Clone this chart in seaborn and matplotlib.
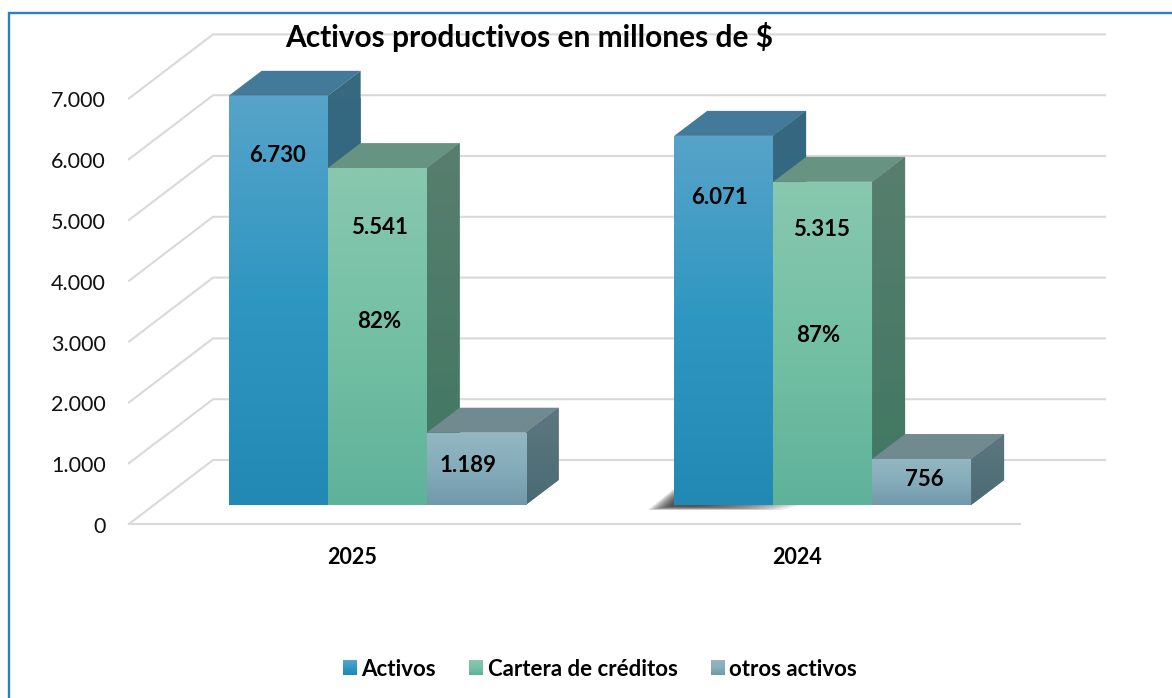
import numpy as np
import pandas as pd
import matplotlib
matplotlib.use("Agg")
import matplotlib.pyplot as plt
import seaborn as sns
from matplotlib.colors import LinearSegmentedColormap
from matplotlib.legend_handler import HandlerBase
from matplotlib.lines import Line2D
from matplotlib.patches import Polygon, Rectangle
from matplotlib.transforms import Affine2D

# ---- data ----
years = ["2025", "2024"]
series = ["Activos", "Cartera de créditos", "otros activos"]
activos = [6730, 6071]
cartera = [5541, 5315]
otros = [1189, 756]
percentages = ["82%", "87%"]
y_ticks = [0, 1000, 2000, 3000, 4000, 5000, 6000, 7000]
title = "Activos productivos en millones de $"

# ---- styles ----
front_cols = {"Activos": ("#57A3C9", "#2E97C1", "#2289B4"),
              "Cartera de créditos": ("#88C8AF", "#74C0A4", "#5FB29A"),
              "otros activos": ("#94B7C2", "#84ACBA", "#7199AB")}
top_cols = {"Activos": "#437A99", "Cartera de créditos": "#679482", "otros activos": "#718A90"}
side_cols = {"Activos": ("#366880", "#2C6480"),
             "Cartera de créditos": ("#587E6E", "#3F7862"),
             "otros activos": ("#5D777F", "#4A6B74")}
GRID = "#D9D9D9"
FONT = "Lato"

W, H = 1172, 698
fig = plt.figure(figsize=(W / 100, H / 100), dpi=100, facecolor="white")
L, R, B = 129, 1020, 524
PXV = 0.0608
T = B - 7000 * PXV
ax = fig.add_axes([L / W, 1 - B / H, (R - L) / W, (B - T) / H])
px = Affine2D().scale(1, -1).translate(0, H)

df = pd.DataFrame({"year": years * 3,
                   "serie": np.repeat(series, 2),
                   "valor": activos + cartera + otros})
BASE = 19 / PXV
PXC = (R - L) / 2
sns.barplot(data=df, x="year", y="valor", hue="serie", order=years, hue_order=series,
            palette={s: front_cols[s][1] for s in series}, width=2 / 3, gap=0,
            saturation=1, linewidth=0, ax=ax, zorder=3)
ax.set_xlim(-0.5, 1.5)
ax.set_ylim(0, 7000)
ax.set_xlabel("")
ax.set_ylabel("")
for s in ax.spines.values():
    s.set_visible(False)
ax.patch.set_alpha(0)

# ---- wall, floor and depth lines ----
wdx, wdv = 84 / PXC, 64 / PXV
right_back = 1105
for v in y_ticks:
    ax.add_line(Line2D([-0.5, -0.5 + wdx, -0.5 + (right_back - L) / PXC],
                       [v, v + wdv, v + wdv], color=GRID, lw=1.5, clip_on=False, zorder=1))
ax.plot([-0.5, 1.5], [0, 0], color=GRID, lw=1.5, clip_on=False, zorder=1)


def grad(stops):
    return LinearSegmentedColormap.from_list("g", stops)


def fill(ax, artist, stops, ext, z):
    g = np.linspace(0, 1, 128).reshape(-1, 1)
    im = ax.imshow(g, cmap=grad(stops), extent=ext, aspect="auto", origin="upper",
                   zorder=z, interpolation="bilinear")
    im.set_clip_path(artist)
    return im


# ---- 3D faces built on the bars that seaborn drew ----
shift = 25.4 / PXC
dx, dv = 33 / PXC, 25 / PXV
for hi, (name, cont) in enumerate(zip(series, ax.containers)):
    for bar in cont:
        bar.set_x(bar.get_x() + shift)
        bar.set_y(BASE)
        x0, w = bar.get_x(), bar.get_width()
        y0, h = bar.get_y(), bar.get_height()
        x1, y1 = x0 + w, y0 + h
        z = 3 + hi
        top = Polygon([(x0, y1), (x1, y1), (x1 + dx, y1 + dv), (x0 + dx, y1 + dv)],
                      closed=True, fc=top_cols[name], ec="none", zorder=z, clip_on=False)
        side = Polygon([(x1, y0), (x1 + dx, y0 + dv), (x1 + dx, y1 + dv), (x1, y1)],
                       closed=True, fc=side_cols[name][0], ec="none", zorder=z + .1, clip_on=False)
        ax.add_patch(top)
        ax.add_patch(side)
        fill(ax, side, side_cols[name], (x1, x1 + dx, y0, y1 + dv), z + .2)
        bar.set_zorder(z + .3)
        fill(ax, bar, front_cols[name], (x0, x1, y0, y1), z + .4)
ax.set_xlim(-0.5, 1.5)
ax.set_ylim(0, 7000)

# ---- soft shadow under the 2024 blue bar (behind the axes) ----
for k in range(12):
    fig.add_artist(Polygon([(648 + 2 * k, 510 - .3 * k), (676, 487 + 1.1 * k), (690, 505),
                            (800 - 8 * k, 505), (780 - 8 * k, 510 - .3 * k)],
                           closed=True, fc="#222222", ec="none", alpha=.11, transform=px, zorder=-1))

# ---- ticks ----
ax.set_yticks(y_ticks)
ax.set_yticklabels([f"{v:,}".replace(",", ".") for v in y_ticks], fontsize=15.5, family=FONT,
                   color="#111111", va="center")
ax.tick_params(axis="y", length=0, pad=16.5)
ax.tick_params(axis="x", length=0, pad=16.5, labelsize=15.5)
for t in ax.get_xticklabels():
    t.set_family(FONT)
    t.set_fontweight("bold")
for t in ax.get_yticklabels():
    t.set_transform(t.get_transform() + Affine2D().translate(0, -3))


# ---- value labels ----
def put(x, y, s):
    fig.text(x / W, 1 - y / H, s, ha="center", va="center", fontsize=16, family=FONT,
             fontweight="bold", color="black", zorder=10)


fmt = lambda v: f"{v:,}".replace(",", ".")
put(278, 156, fmt(activos[0]))
put(379, 228, fmt(cartera[0]))
put(379, 322, percentages[0])
put(468, 466, fmt(otros[0]))
put(719, 198, fmt(activos[1]))
put(822, 230, fmt(cartera[1]))
put(818, 335, percentages[1])
put(924, 479, fmt(otros[1]))

fig.text(529 / W, 1 - 37 / H, title, ha="center", va="center", fontsize=21.5, family=FONT,
         fontweight="bold", color="black", zorder=10)


# ---- legend with gradient swatches ----
class GradHandler(HandlerBase):
    def create_artists(self, legend, orig, xd, yd, width, height, fontsize, trans):
        cm = grad(orig.get_gid().split(","))
        n = 14
        return [Rectangle((-xd, -yd + height * (n - 1 - i) / n), width, height / n * 1.1,
                          fc=cm(i / (n - 1)), ec="none", transform=trans) for i in range(n)]


handles, labels = ax.get_legend_handles_labels()
for h_, n_ in zip(handles, labels):
    h_.set_gid(",".join(front_cols[n_]))
ax.legend(handles, labels, ncol=3, frameon=False, loc="center",
          bbox_to_anchor=(600 / W, 1 - 669 / H), bbox_transform=fig.transFigure,
          prop={"family": FONT, "weight": "bold", "size": 16},
          handlelength=0.63, handleheight=0.63, handletextpad=0.2, columnspacing=1.5,
          handler_map={h_: GradHandler() for h_ in handles})

# ---- frame of the picture ----
fig.add_artist(Line2D([8.5, 8.5, W], [H, 12.5, 12.5], color="#2A80C5", lw=1.7, transform=px,
                      solid_joinstyle="miter"))

fig.savefig("out.png", dpi=100, facecolor="white")
